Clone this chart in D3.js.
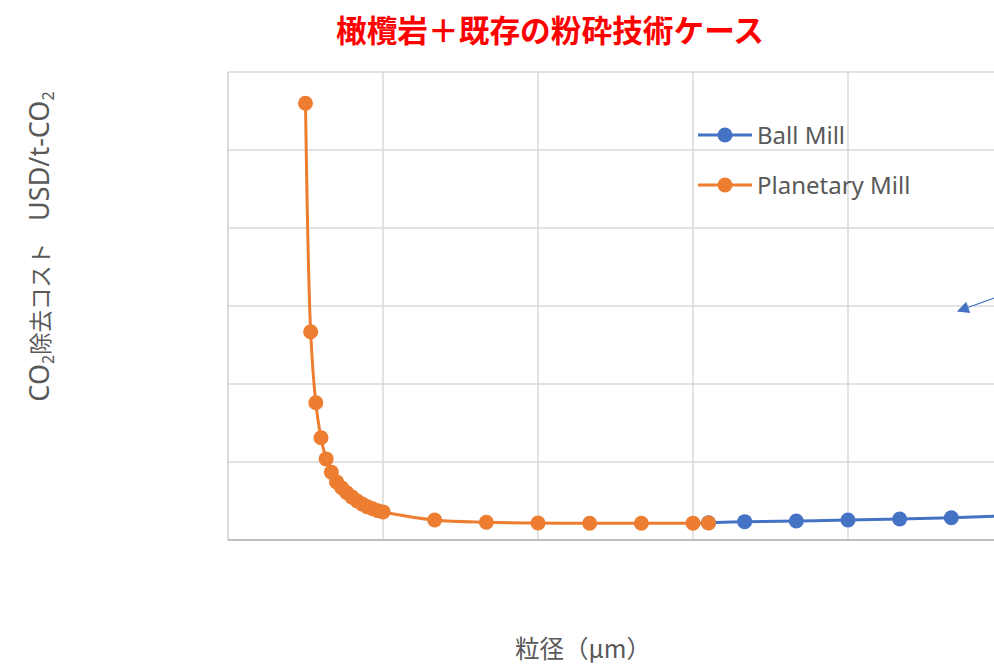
<!DOCTYPE html>
<html>
<head>
    <meta charset="utf-8">
    <title>橄欖岩＋既存の粉砕技術ケース</title>
    <script src="https://d3js.org/d3.v7.min.js"></script>
    <style>
        body { margin: 0; background: #fff; }
        text { font-family: "Noto Sans CJK JP", "Noto Sans", sans-serif; }
        .latin { font-family: "Noto Sans", "Noto Sans CJK JP", sans-serif; }
    </style>
</head>
<body>
    <script>
        // particle size (µm) and CO2 removal cost (USD/t-CO2)
        const planetarySize = [15, 16, 17, 18, 19, 20, 21, 22, 23, 24, 25, 26, 27, 28, 29, 30, 40, 50, 60, 70, 80, 90, 93];
        const planetaryCost = [560, 267, 176, 131, 104, 87, 74.5, 67, 60.5, 55, 50, 46, 42.5, 40, 37.5, 36, 25.6, 22.7, 21.8, 21.4, 21.4, 21.6, 21.8];
        const ballSize = [93, 100, 110, 120, 130, 140, 150];
        const ballCost = [22.2, 23.5, 24.4, 25.6, 26.9, 28.6, 31];
        const xTicks = [0, 30, 60, 90, 120, 150];
        const yTicks = [0, 100, 200, 300, 400, 500, 600];
        const seriesNames = ["Ball Mill", "Planetary Mill"];
        const seriesColors = ["#4472C4", "#ED7D31"];
        // annotation arrow (data units): from, to
        const arrowFrom = [149.5, 313];
        const arrowTo = [141.3, 293.6];

        const width = 994, height = 666;
        const svg = d3.select('body').append('svg')
            .attr('width', width)
            .attr('height', height);

        const x = d3.scaleLinear().domain([0, 150]).range([228, 1003]);
        const y = d3.scaleLinear().domain([0, 600]).range([540, 72]);

        const grid = svg.append('g');
        grid.selectAll('line.v')
            .data(xTicks.slice(1))
            .enter().append('line')
            .attr('x1', d => x(d)).attr('x2', d => x(d))
            .attr('y1', y(600)).attr('y2', y(0))
            .style('stroke', '#d9d9d9').style('stroke-width', 1.5);
        grid.selectAll('line.h')
            .data(yTicks.slice(1))
            .enter().append('line')
            .attr('x1', x(0)).attr('x2', x(150))
            .attr('y1', d => y(d)).attr('y2', d => y(d))
            .style('stroke', '#d9d9d9').style('stroke-width', 1.5);

        // axes without labels
        svg.append('line')
            .attr('x1', x(0)).attr('x2', x(0)).attr('y1', y(600)).attr('y2', y(0))
            .style('stroke', '#d0d0d0').style('stroke-width', 1.5);
        svg.append('line')
            .attr('x1', x(0)).attr('x2', x(150)).attr('y1', y(0)).attr('y2', y(0))
            .style('stroke', '#bfbfbf').style('stroke-width', 1.8);

        const line = d3.line()
            .x(d => x(d[0]))
            .y(d => y(d[1]))
            .curve(d3.curveCatmullRom.alpha(0.5));

        const series = [
            d3.zip(ballSize, ballCost),
            d3.zip(planetarySize, planetaryCost)
        ];

        series.forEach((pts, i) => {
            const g = svg.append('g');
            g.append('path')
                .datum(pts)
                .attr('d', line)
                .style('fill', 'none')
                .style('stroke', seriesColors[i])
                .style('stroke-width', 3);
            g.selectAll('circle')
                .data(pts)
                .enter().append('circle')
                .attr('cx', d => x(d[0]))
                .attr('cy', d => y(d[1]))
                .attr('r', 7.5)
                .style('fill', seriesColors[i]);
        });

        // legend
        const legend = svg.append('g');
        seriesNames.forEach((name, i) => {
            const ly = 135 + i * 50;
            legend.append('line')
                .attr('x1', 698).attr('x2', 752).attr('y1', ly).attr('y2', ly)
                .style('stroke', seriesColors[i]).style('stroke-width', 3);
            legend.append('circle')
                .attr('cx', 725).attr('cy', ly).attr('r', 7.5)
                .style('fill', seriesColors[i]);
            legend.append('text')
                .attr('class', 'latin')
                .attr('x', 757).attr('y', ly + 9)
                .attr('font-size', '24px')
                .style('fill', '#595959')
                .text(name);
        });

        // annotation arrow
        svg.append('defs').append('marker')
            .attr('id', 'arrow')
            .attr('viewBox', '0 0 10 10')
            .attr('refX', 9).attr('refY', 5)
            .attr('markerWidth', 14).attr('markerHeight', 12)
            .attr('markerUnits', 'userSpaceOnUse')
            .attr('orient', 'auto')
            .append('path')
            .attr('d', 'M0,0 L10,5 L0,10 Z')
            .style('fill', seriesColors[0]);
        svg.append('line')
            .attr('x1', x(arrowFrom[0])).attr('y1', y(arrowFrom[1]))
            .attr('x2', x(arrowTo[0])).attr('y2', y(arrowTo[1]))
            .style('stroke', seriesColors[0]).style('stroke-width', 1.3)
            .attr('marker-end', 'url(#arrow)');

        // title
        svg.append('text')
            .attr('x', 550).attr('y', 42)
            .attr('text-anchor', 'middle')
            .attr('font-size', '30.7px')
            .attr('font-weight', 'bold')
            .style('fill', '#FF0000')
            .text('橄欖岩＋既存の粉砕技術ケース');

        // y axis title
        const yt = svg.append('text')
            .attr('transform', 'translate(49,246.5) rotate(-90)')
            .attr('text-anchor', 'middle')
            .attr('font-size', '22.4px')
            .style('fill', '#595959');
        yt.append('tspan').attr('class', 'latin').attr('font-size', '27px').text('CO');
        yt.append('tspan').attr('class', 'latin').attr('font-size', '16px').attr('dy', 5).text('2');
        yt.append('tspan').attr('dy', -5).text('除去コスト');
        yt.append('tspan').attr('class', 'latin').attr('font-size', '27px').attr('dx', 22).text('USD/t-CO');
        yt.append('tspan').attr('class', 'latin').attr('font-size', '16px').attr('dy', 5).text('2');

        // x axis title
        svg.append('text')
            .attr('x', 583).attr('y', 658)
            .attr('text-anchor', 'middle')
            .attr('font-size', '24.5px')
            .style('fill', '#595959')
            .text('粒径（μm）');
    </script>
</body>
</html>
